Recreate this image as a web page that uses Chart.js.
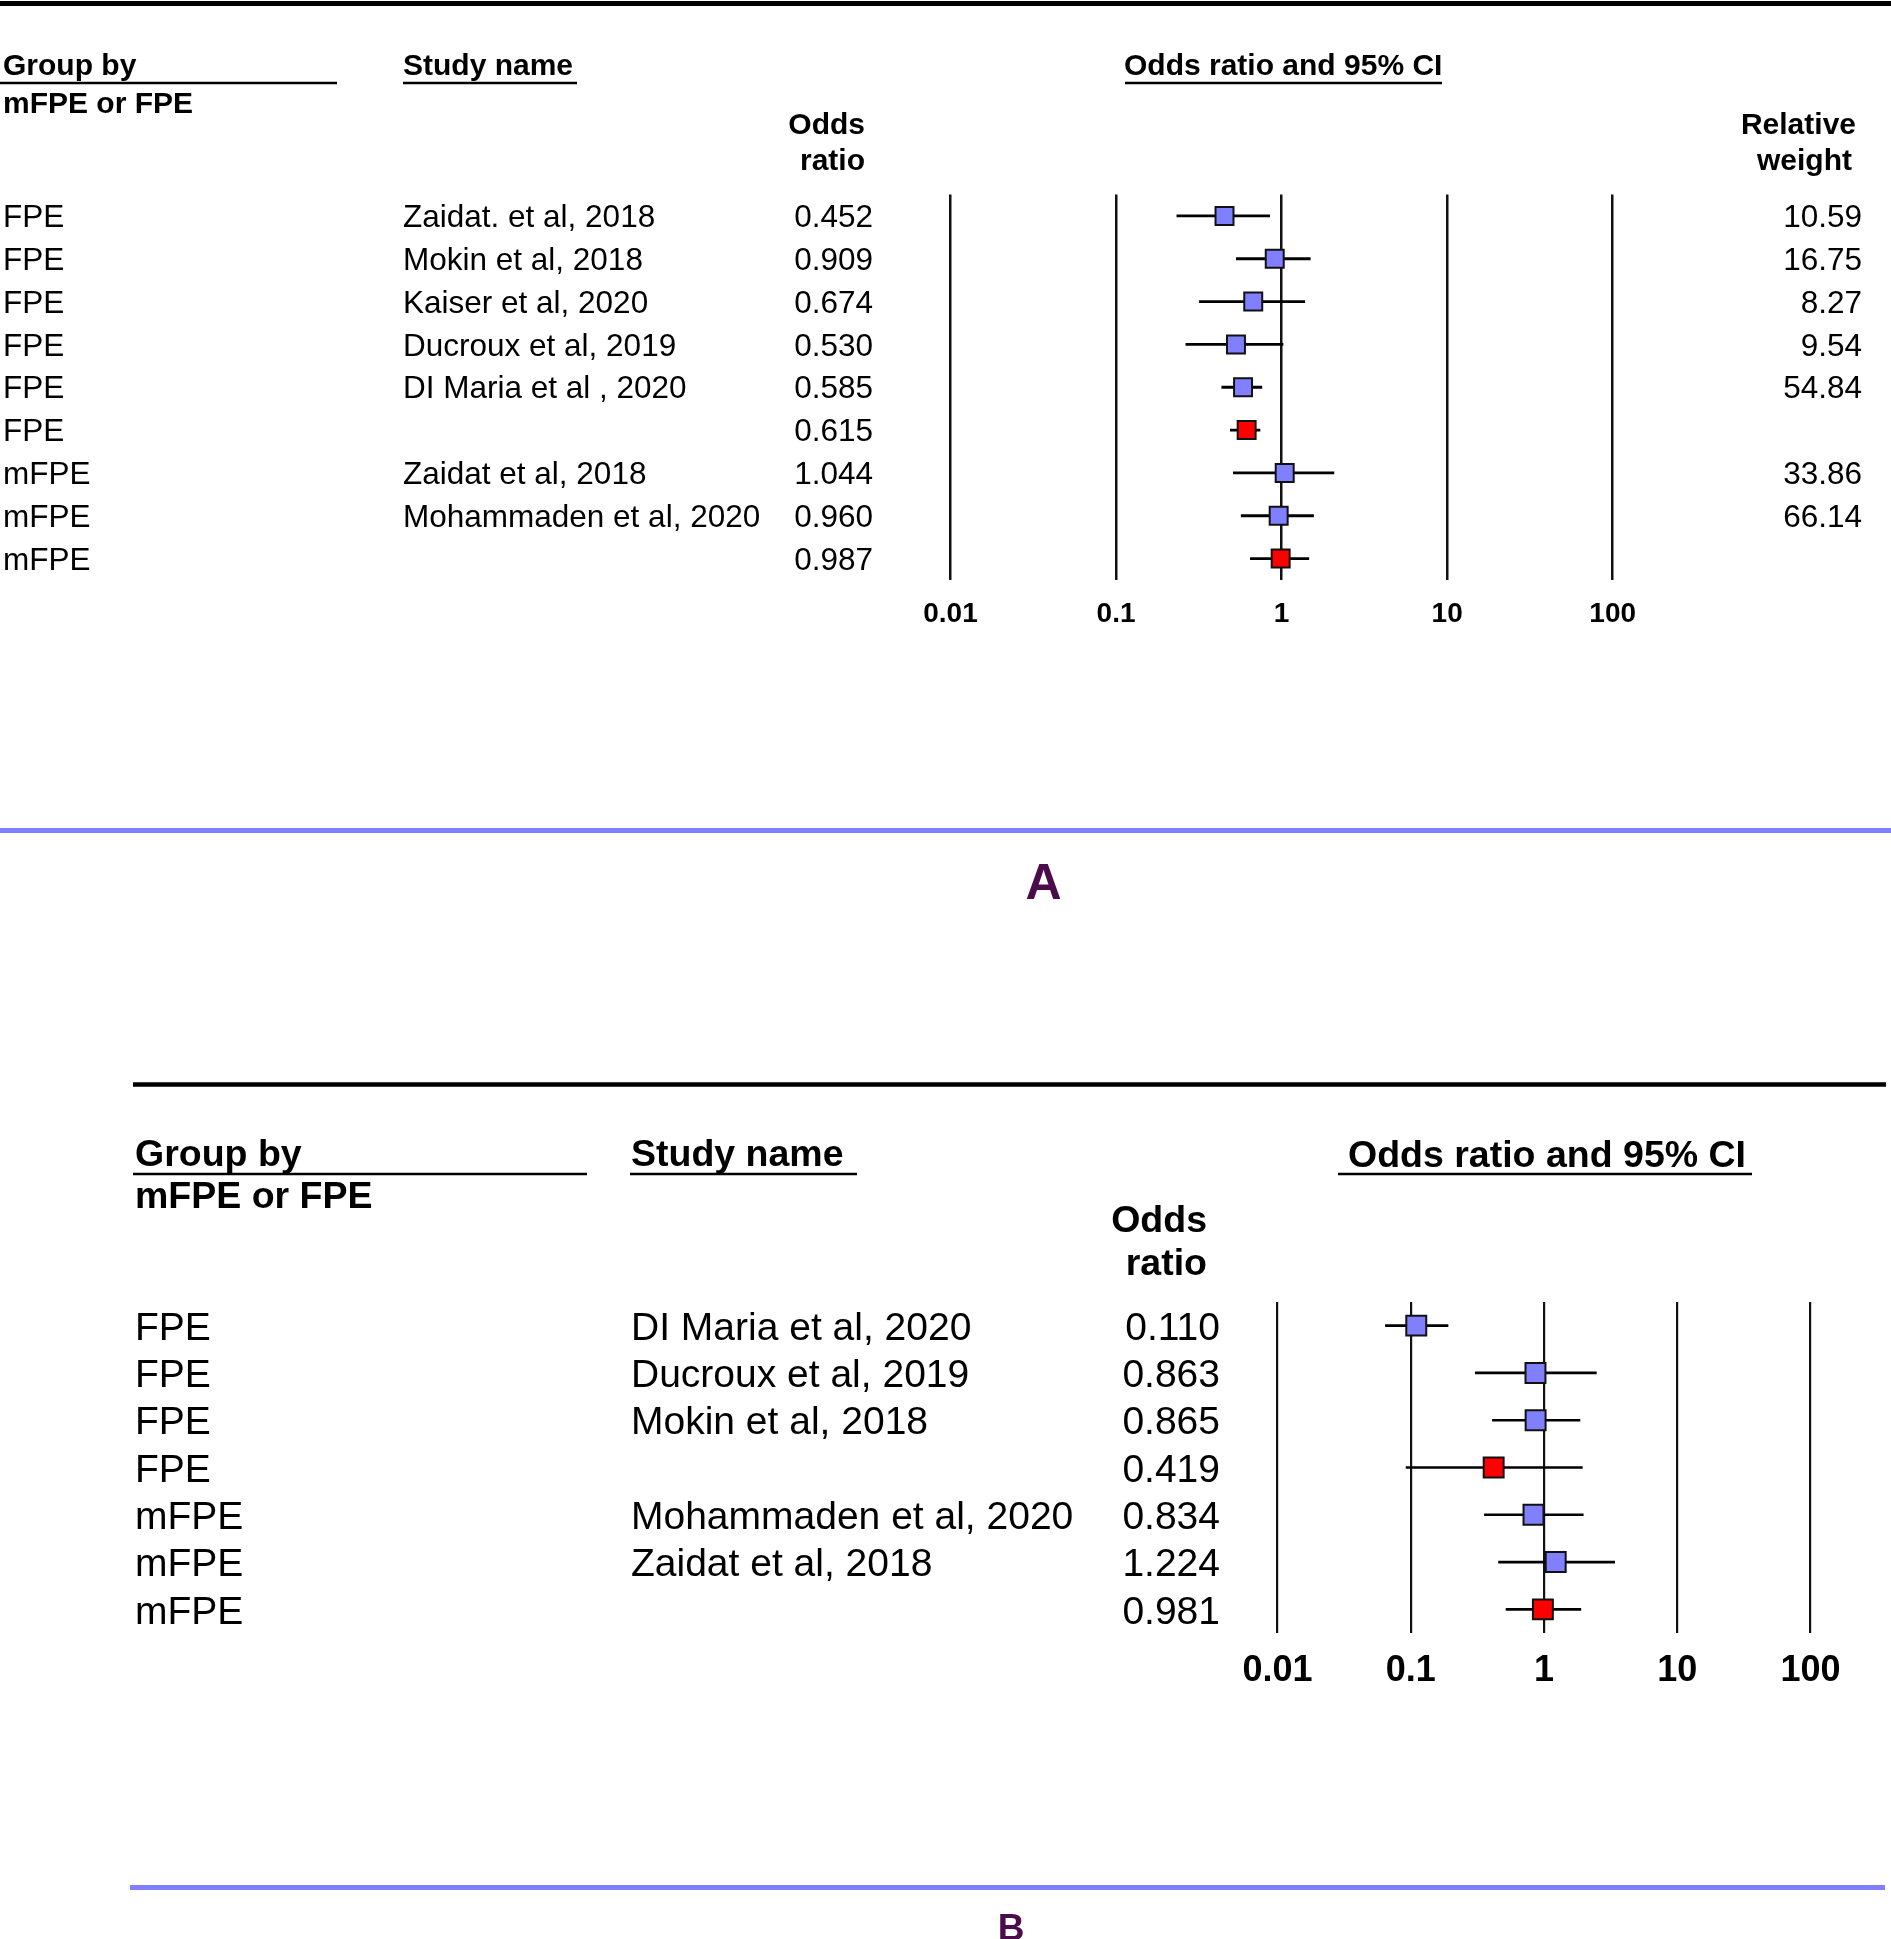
<!DOCTYPE html>
<html>
<head>
<meta charset="utf-8">
<script src="https://cdn.jsdelivr.net/npm/chart.js@4.4.1/dist/chart.umd.min.js"></script>
<style>
  html, body { margin: 0; padding: 0; background: #fff; }
  body { width: 1891px; height: 1939px; position: relative; overflow: hidden; }
  canvas { position: absolute; left: 0; }
  #chartA { top: 0; }
  #chartB { top: 905px; }
</style>
</head>
<body>
<canvas id="chartA" width="1891" height="905"></canvas>
<canvas id="chartB" width="1891" height="1034"></canvas>
<script>
// panel A
const groupA = ["FPE", "FPE", "FPE", "FPE", "FPE", "FPE", "mFPE", "mFPE", "mFPE"];
const studyA = ["Zaidat. et al, 2018", "Mokin et al, 2018", "Kaiser et al, 2020", "Ducroux et al, 2019",
                "DI Maria et al , 2020", "", "Zaidat et al, 2018", "Mohammaden et al, 2020", ""];
const oddsA = [0.452, 0.909, 0.674, 0.530, 0.585, 0.615, 1.044, 0.960, 0.987];
const lowerA = [0.233, 0.533, 0.319, 0.264, 0.435, 0.490, 0.511, 0.570, 0.647];
const upperA = [0.847, 1.49, 1.38, 1.02, 0.760, 0.741, 2.07, 1.56, 1.46];
const weightA = [10.59, 16.75, 8.27, 9.54, 54.84, null, 33.86, 66.14, null];
const pooledA = [false, false, false, false, false, true, false, false, true];

// panel B
const groupB = ["FPE", "FPE", "FPE", "FPE", "mFPE", "mFPE", "mFPE"];
const studyB = ["DI Maria et al, 2020", "Ducroux et al, 2019", "Mokin et al, 2018", "",
                "Mohammaden et al, 2020", "Zaidat et al, 2018", ""];
const oddsB = [0.110, 0.863, 0.865, 0.419, 0.834, 1.224, 0.981];
const lowerB = [0.0646, 0.305, 0.410, 0.0923, 0.357, 0.456, 0.519];
const upperB = [0.1905, 2.47, 1.86, 1.94, 1.97, 3.39, 1.89];
const pooledB = [false, false, false, true, false, false, true];

const tickVals = [0.01, 0.1, 1, 10, 100];

const FONT = "'Liberation Sans', Arial, sans-serif";
const BLUE = "#8080ff";
const RED = "#ff0000";
const PURPLE = "#4b0c4b";

function txt(ctx, s, x, y, size, bold, align, base, color) {
    ctx.font = (bold ? "bold " : "") + size + "px " + FONT;
    ctx.textAlign = align || "left";
    ctx.textBaseline = base || "alphabetic";
    ctx.fillStyle = color || "#000";
    ctx.fillText(s, x, y);
}

function hline(ctx, x1, x2, y, w, color) {
    ctx.fillStyle = color || "#000";
    ctx.fillRect(x1, y - w / 2, x2 - x1, w);
}

function creerForest(id, odds, lower, upper, pooled, box, drawTable) {
    const squares = odds.map((v, i) => ({x: v, y: i}));
    const cis = odds.map((v, i) => ({x: [lower[i], upper[i]], y: i}));
    return new Chart(document.getElementById(id), {
        type: "bar",
        data: {
            datasets: [{
                type: "scatter",
                data: squares,
                pointStyle: "rect",
                pointRadius: box.square,
                pointHoverRadius: box.square,
                pointBackgroundColor: pooled.map(p => p ? RED : BLUE),
                pointBorderColor: "#111",
                pointBorderWidth: 2,
                order: 0
            }, {
                type: "bar",
                data: cis,
                backgroundColor: "#000",
                barThickness: box.ci,
                borderWidth: 0,
                order: 1
            }]
        },
        options: {
            responsive: false,
            animation: false,
            devicePixelRatio: 1,
            indexAxis: "y",
            layout: {padding: {left: box.left, right: box.right, top: box.top, bottom: 0}},
            plugins: {legend: {display: false}, tooltip: {enabled: false}},
            scales: {
                x: {
                    type: "logarithmic",
                    min: 0.01,
                    max: 100,
                    offset: false,
                    afterBuildTicks: s => { s.ticks = tickVals.map(v => ({value: v})); },
                    afterFit: s => { s.height = box.axisH; },
                    border: {display: false},
                    grid: {color: "#111", lineWidth: box.grid, drawTicks: false},
                    ticks: {
                        color: "#000",
                        font: {family: FONT, size: box.tickSize, weight: "bold"},
                        padding: box.tickPad,
                        maxRotation: 0,
                        autoSkip: false,
                        callback: v => String(v)
                    }
                },
                y: {
                    type: "linear",
                    min: -0.5,
                    max: odds.length - 0.5,
                    offset: false,
                    reverse: true,
                    display: false
                }
            }
        },
        plugins: [{id: "table", afterDraw: chart => drawTable(chart)}]
    });
}

let chartA = creerForest("chartA", oddsA, lowerA, upperA, pooledA, {
    left: 950.5, right: 1891 - 1612.7, top: 194.5, axisH: 905 - 580,
    square: 12.7, ci: 2.2, grid: 2.5, tickSize: 28, tickPad: 17.5
}, function(chart) {
    const ctx = chart.ctx;
    const y = chart.scales.y;
    ctx.save();
    hline(ctx, 0, 1891, 3.5, 5);
    txt(ctx, "Group by", 3, 75, 30, true);
    hline(ctx, 0, 337, 83, 2.5);
    txt(ctx, "mFPE or FPE", 3, 113, 30, true);
    txt(ctx, "Study name", 403, 75, 30, true);
    hline(ctx, 403, 577, 83, 2.5);
    txt(ctx, "Odds ratio and 95% CI", 1124, 75, 30, true);
    hline(ctx, 1125, 1442, 83, 2.5);
    txt(ctx, "Odds", 865, 134, 30, true, "right");
    txt(ctx, "ratio", 865, 170, 30, true, "right");
    txt(ctx, "Relative", 1856, 134, 30, true, "right");
    txt(ctx, "weight", 1852, 170, 30, true, "right");
    for (let i = 0; i < oddsA.length; i++) {
        const py = y.getPixelForValue(i) + 2.5;
        txt(ctx, groupA[i], 3, py, 31.5, false, "left", "middle");
        txt(ctx, studyA[i], 403, py, 31.5, false, "left", "middle");
        txt(ctx, oddsA[i].toFixed(3), 873, py, 31.5, false, "right", "middle");
        if (weightA[i] != null) {
            txt(ctx, weightA[i].toFixed(2), 1862, py, 31.5, false, "right", "middle");
        }
    }
    hline(ctx, 0, 1891, 830.5, 5, BLUE);
    txt(ctx, "A", 1043.5, 899, 50, true, "center", "alphabetic", PURPLE);
    ctx.restore();
});

let chartB = creerForest("chartB", oddsB, lowerB, upperB, pooledB, {
    left: 1277.5, right: 1891 - 1810.5, top: 397, axisH: 1034 - 728,
    square: 14.1, ci: 2, grid: 2.2, tickSize: 36, tickPad: 16
}, function(chart) {
    const ctx = chart.ctx;
    const y = chart.scales.y;
    ctx.save();
    hline(ctx, 133, 1886, 179.5, 4.5);
    txt(ctx, "Group by", 135, 261, 37.5, true);
    hline(ctx, 133, 587, 269, 2.5);
    txt(ctx, "mFPE or FPE", 135, 303, 37.5, true);
    txt(ctx, "Study name", 631, 261, 37.5, true);
    hline(ctx, 630, 857, 269, 2.5);
    txt(ctx, "Odds ratio and 95% CI", 1348, 262, 37.5, true);
    hline(ctx, 1338, 1752, 269, 2.5);
    txt(ctx, "Odds", 1207, 327, 37.5, true, "right");
    txt(ctx, "ratio", 1207, 370, 37.5, true, "right");
    for (let i = 0; i < oddsB.length; i++) {
        const py = y.getPixelForValue(i) + 3.5;
        txt(ctx, groupB[i], 135, py, 39, false, "left", "middle");
        txt(ctx, studyB[i], 631, py, 39, false, "left", "middle");
        txt(ctx, oddsB[i].toFixed(3), 1220, py, 39, false, "right", "middle");
    }
    hline(ctx, 130, 1885, 982.5, 5, BLUE);
    txt(ctx, "B", 1011, 1035, 37, true, "center", "alphabetic", PURPLE);
    ctx.restore();
});
</script>
</body>
</html>
